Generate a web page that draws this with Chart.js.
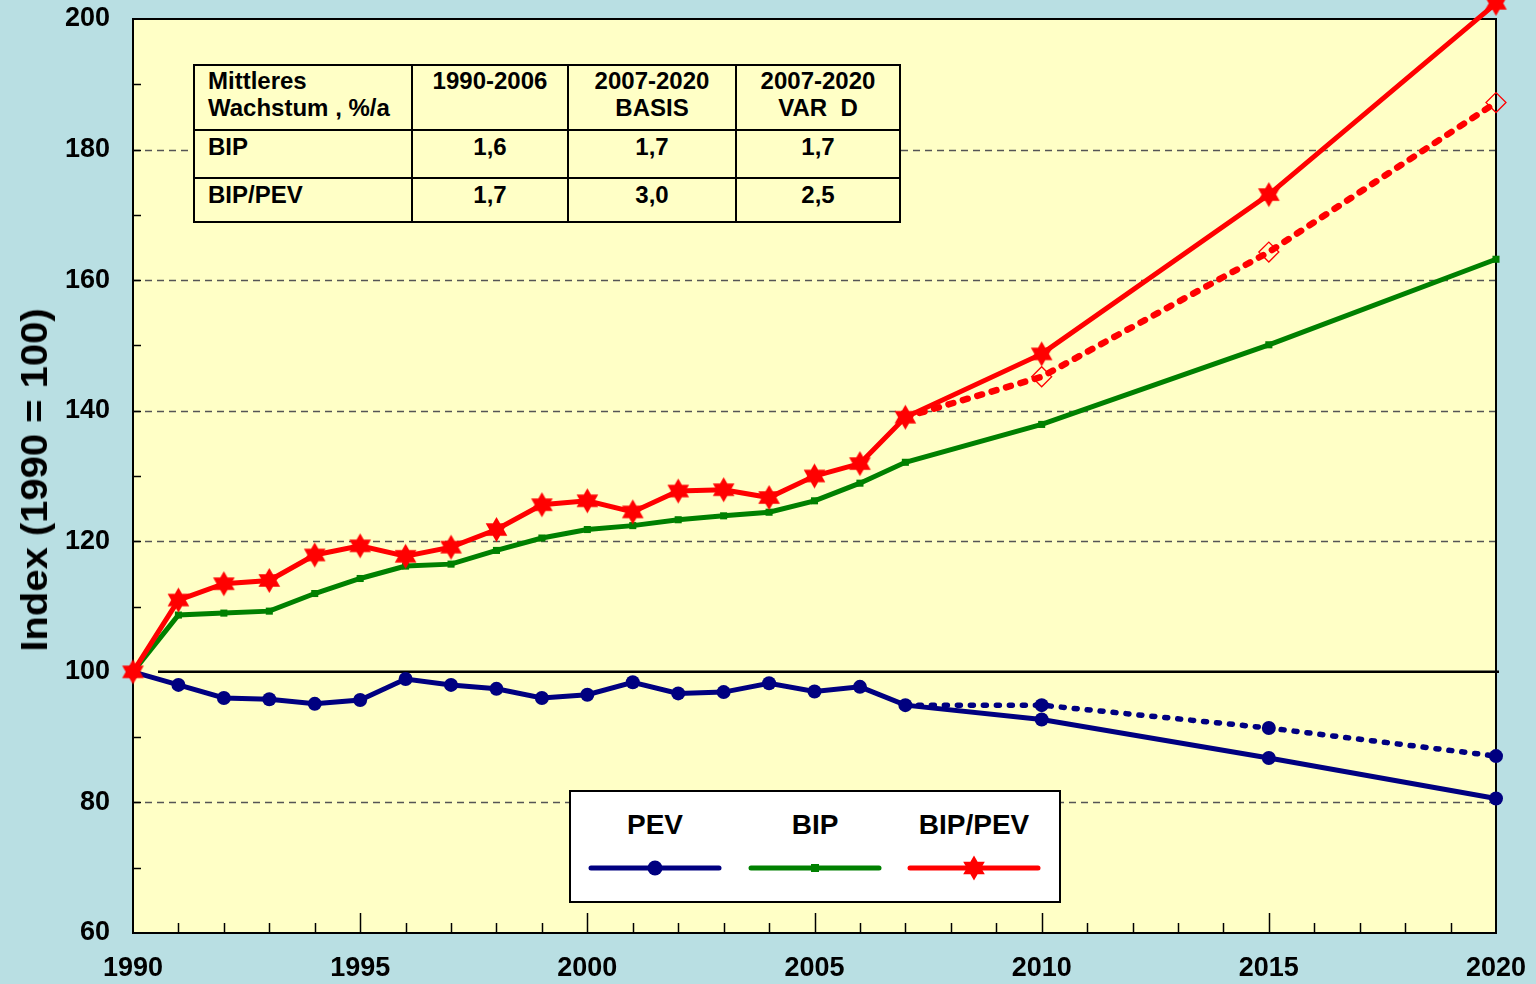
<!DOCTYPE html>
<html><head><meta charset="utf-8">
<script src="https://cdn.jsdelivr.net/npm/chart.js@4.4.1/dist/chart.umd.min.js"></script>
<style>
html,body{margin:0;padding:0;background:#B9DFE3;}
#wrap{position:relative;width:1536px;height:984px;overflow:hidden;background:#B9DFE3;}
#c{position:absolute;left:0;top:0;}
#ytitle{position:absolute;left:35px;top:480px;width:0;height:0;}
#ytitle span{position:absolute;left:0;top:0;white-space:nowrap;font:bold 37px "Liberation Sans",Arial,sans-serif;color:#000;transform:translate(-50%,-50%) rotate(-90deg) scaleX(1.08);}
#tbl{position:absolute;left:193px;top:64px;border-collapse:collapse;background:#FFFFC6;table-layout:fixed;width:706px;font:bold 24px "Liberation Sans",Arial,sans-serif;color:#000;}
#tbl td{border:2px solid #000;padding:2px 0 0 0;vertical-align:top;text-align:center;line-height:27px;}
#tbl td.l{text-align:left;padding-left:13px;}
#tbl tr.h td{padding-top:1px;}
#legend{position:absolute;left:569px;top:790px;}
</style></head><body>
<div id="wrap">
<canvas id="c" width="1536" height="984"></canvas>
<div id="ytitle"><span>Index (1990 = 100)</span></div>
<table id="tbl"><colgroup><col style="width:218px"><col style="width:156px"><col style="width:168px"><col style="width:164px"></colgroup><tbody id="tbody"></tbody></table>
<svg id="legend" width="492" height="113" xmlns="http://www.w3.org/2000/svg"></svg>
</div>
<script>
// ---- data ----
const years = [1990,1991,1992,1993,1994,1995,1996,1997,1998,1999,2000,2001,2002,2003,2004,2005,2006,2007,2010,2015,2020];
const pev    = [100,98.0,96.0,95.8,95.1,95.7,98.9,98.0,97.4,96.0,96.5,98.4,96.7,96.9,98.25,97.0,97.7,94.9,92.7,86.8,80.6];
const bip    = [100,108.7,109.0,109.3,112.0,114.3,116.2,116.5,118.6,120.5,121.8,122.4,123.3,123.9,124.45,126.2,128.9,132.1,137.9,150.1,163.2];
const bipPev = [100,111.0,113.5,114.0,117.9,119.3,117.7,119.1,121.8,125.6,126.2,124.5,127.7,127.9,126.7,130.0,131.9,139.0,148.7,173.1,202.4];
const varYears   = [2007,2010,2015,2020];
const pevVarD    = [94.9,94.9,91.4,87.1];
const bipPevVarD = [139.0,145.2,164.3,187.2];
const xTicks = [1990,1995,2000,2005,2010,2015,2020];
const yTicks = [60,80,100,120,140,160,180,200];
const gridValues = [80,120,140,160,180];
const refValue = 100;
const refLineStart = 1990.55;
const legendLabels = ['PEV','BIP','BIP/PEV'];
const tableHeader = [['Mittleres','Wachstum , %/a'],['1990-2006'],['2007-2020','BASIS'],['2007-2020','VAR\u00a0 D']];
const tableRowLabels = ['BIP','BIP/PEV'];
const tableRows = [['1,6','1,7','1,7'],['1,7','3,0','2,5']];

const NAVY='#000080', GREEN='#008000', RED='#FF0000', PLOT='#FFFFC6';
const FONT='"Liberation Sans", Arial, sans-serif';

// ---- table ----
(function(){
  const tb=document.getElementById('tbody');
  let h='<tr class="h" style="height:65px">';
  tableHeader.forEach((c,i)=>{h+='<td'+(i===0?' class="l"':'')+'>'+c.join('<br>')+'</td>';});
  h+='</tr>';
  tableRows.forEach((r,k)=>{
    h+='<tr style="height:'+(k===0?48:44)+'px"><td class="l">'+tableRowLabels[k]+'</td>';
    r.forEach(v=>{h+='<td>'+v+'</td>';});
    h+='</tr>';
  });
  tb.innerHTML=h;
})();

// ---- star marker ----
function starPath(cx,cy,R,ri){
  const pts=[];
  for(let k=0;k<12;k++){const a=-Math.PI/2+k*Math.PI/6;const r=k%2===0?R:ri;pts.push([cx+r*Math.cos(a),cy+r*Math.sin(a)]);}
  return pts;
}
function makeStar(R){
  const c=document.createElement('canvas');const s=Math.ceil(R*2+2);c.width=s;c.height=s;
  const g=c.getContext('2d');g.fillStyle=RED;g.beginPath();
  starPath(s/2,s/2,R,R*0.58).forEach((p,i)=>i?g.lineTo(p[0],p[1]):g.moveTo(p[0],p[1]));
  g.closePath();g.fill();return c;
}
const starImg=makeStar(12.5);

// ---- legend ----
(function(){
  const svg=document.getElementById('legend');
  const cx=[86,246,405];
  let s='<rect x="1" y="1" width="490" height="111" fill="#FFFFFF" stroke="#000" stroke-width="2"/>';
  legendLabels.forEach((t,i)=>{s+='<text x="'+cx[i]+'" y="44" text-anchor="middle" font-family=\'Liberation Sans, Arial\' font-weight="bold" font-size="28" fill="#000">'+t+'</text>';});
  const cols=[NAVY,GREEN,RED];
  cols.forEach((c,i)=>{s+='<line x1="'+(cx[i]-64)+'" y1="78" x2="'+(cx[i]+64)+'" y2="78" stroke="'+c+'" stroke-width="5" stroke-linecap="round"/>';});
  s+='<circle cx="'+cx[0]+'" cy="78" r="7.5" fill="'+NAVY+'"/>';
  s+='<rect x="'+(cx[1]-4)+'" y="74" width="8" height="8" fill="'+GREEN+'"/>';
  s+='<polygon points="'+starPath(cx[2],78,12.5,7.2).map(p=>p[0].toFixed(1)+','+p[1].toFixed(1)).join(' ')+'" fill="'+RED+'"/>';
  svg.innerHTML=s;
})();

// ---- decoration plugin ----
const decor={
  id:'decor',
  beforeDraw(chart){
    const {ctx,chartArea:a}=chart;
    ctx.save();ctx.fillStyle=PLOT;ctx.fillRect(a.left,a.top,a.right-a.left,a.bottom-a.top);ctx.restore();
  },
  beforeDatasetsDraw(chart){
    const {ctx,chartArea:a,scales:{x,y}}=chart;
    ctx.save();
    ctx.strokeStyle='#555';ctx.lineWidth=1.3;ctx.setLineDash([7,5]);
    gridValues.forEach(v=>{const p=Math.round(y.getPixelForValue(v))+0.5;ctx.beginPath();ctx.moveTo(a.left,p);ctx.lineTo(a.right,p);ctx.stroke();});
    ctx.setLineDash([]);
    ctx.strokeStyle='#000';ctx.lineWidth=1.5;
    for(let v=y.min+10;v<y.max;v+=10){const p=Math.round(y.getPixelForValue(v))+0.5;ctx.beginPath();ctx.moveTo(a.left,p);ctx.lineTo(a.left+8,p);ctx.stroke();}
    for(let v=x.min+1;v<x.max;v+=1){const p=Math.round(x.getPixelForValue(v))+0.5;const len=(v%5===0)?20:10;ctx.beginPath();ctx.moveTo(p,a.bottom);ctx.lineTo(p,a.bottom-len);ctx.stroke();}
    ctx.lineWidth=2;ctx.strokeRect(a.left,a.top,a.right-a.left,a.bottom-a.top);
    const py=y.getPixelForValue(refValue);
    ctx.lineWidth=2.5;ctx.beginPath();ctx.moveTo(x.getPixelForValue(refLineStart),py);ctx.lineTo(a.right+3,py);ctx.stroke();
    ctx.restore();
  }
};

const pts=(xs,ys)=>xs.map((x,i)=>({x:x,y:ys[i]}));
// image markers ignore radius when drawn; radius only keeps the clipped-top star visible
const starRadius=years.map((y,i)=>i===years.length-1?16:12);

new Chart(document.getElementById('c'),{
  type:'line',
  data:{datasets:[
    {label:'BIP/PEV',data:pts(years,bipPev),borderColor:RED,backgroundColor:RED,borderWidth:5,pointStyle:starImg,pointRadius:starRadius,pointBorderWidth:0,clip:false},
    {label:'BIP/PEV VAR D',data:pts(varYears,bipPevVarD),borderColor:RED,borderWidth:6.5,borderDash:[5,10],borderCapStyle:'round',pointStyle:'rectRot',pointRadius:[0,10,10,10],pointBackgroundColor:'rgba(0,0,0,0)',pointBorderColor:RED,pointBorderWidth:1.3,clip:false},
    {label:'BIP',data:pts(years,bip),borderColor:GREEN,backgroundColor:GREEN,borderWidth:5,pointStyle:'rect',pointRadius:5,pointBorderWidth:0,clip:false},
    {label:'PEV',data:pts(years,pev),borderColor:NAVY,backgroundColor:NAVY,borderWidth:5,pointStyle:'circle',pointRadius:7,pointBorderWidth:0,clip:false},
    {label:'PEV VAR D',data:pts(varYears,pevVarD),borderColor:NAVY,backgroundColor:NAVY,borderWidth:5.5,borderDash:[3,10],borderCapStyle:'round',pointStyle:'circle',pointRadius:[0,7,7,7],pointBorderWidth:0,clip:false}
  ]},
  options:{
    responsive:false,devicePixelRatio:1,animation:false,events:[],
    layout:{padding:{top:19,right:40,left:0,bottom:0}},
    plugins:{legend:{display:false},tooltip:{enabled:false}},
    elements:{line:{tension:0}},
    scales:{
      x:{type:'linear',min:1990,max:2020,
        afterBuildTicks:s=>{s.ticks=xTicks.map(v=>({value:v}));},
        afterFit:s=>{s.height=51;s.paddingLeft=0;s.paddingRight=0;},
        grid:{display:false,drawTicks:false},border:{display:false},
        ticks:{color:'#000',font:{family:FONT,size:27,weight:'bold'},padding:19,maxRotation:0,autoSkip:false,callback:v=>String(v)}},
      y:{type:'linear',min:60,max:200,
        afterBuildTicks:s=>{s.ticks=yTicks.map(v=>({value:v}));},
        afterFit:s=>{s.width=133;s.paddingTop=0;s.paddingBottom=0;},
        grid:{display:false,drawTicks:false},border:{display:false},
        ticks:{color:'#000',font:{family:FONT,size:27,weight:'bold'},padding:23,autoSkip:false,callback:v=>String(v)}}
    }
  },
  plugins:[decor]
});
</script>
</body></html>
